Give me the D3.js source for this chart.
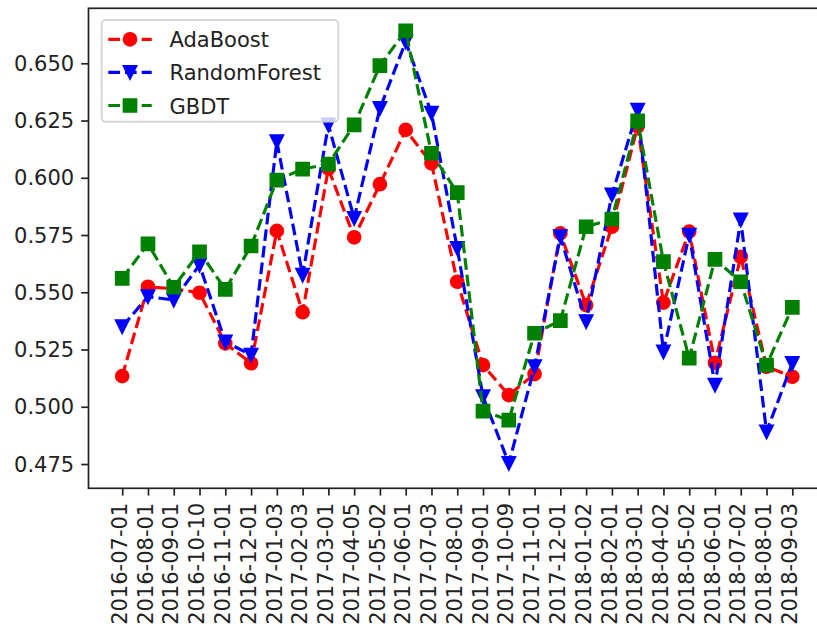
<!DOCTYPE html>
<html>
<head>
<meta charset="utf-8">
<script src="https://cdn.jsdelivr.net/npm/d3@7"></script>
<style>
  html, body { margin: 0; padding: 0; background: #fff; }
  svg { display: block; }
  text { font-family: "DejaVu Sans", sans-serif; }
</style>
</head>
<body>
<div id="chart"></div>
<script>
const dates = ["2016-07-01","2016-08-01","2016-09-01","2016-10-10","2016-11-01","2016-12-01",
  "2017-01-03","2017-02-03","2017-03-01","2017-04-05","2017-05-02","2017-06-01","2017-07-03",
  "2017-08-01","2017-09-01","2017-10-09","2017-11-01","2017-12-01","2018-01-02","2018-02-01",
  "2018-03-01","2018-04-02","2018-05-02","2018-06-01","2018-07-02","2018-08-01","2018-09-03"];

const adaBoost = [0.5134,0.5524,0.5515,0.5498,0.5277,0.5190,0.5768,0.5413,0.6040,0.5740,0.5972,0.6209,0.6063,
  0.5546,0.5182,0.5051,0.5143,0.5757,0.5444,0.5786,0.6225,0.5455,0.5765,0.5192,0.5655,0.5175,0.5131];
const randomForest = [0.5350,0.5481,0.5466,0.5619,0.5284,0.5226,0.6158,0.5575,0.6231,0.5823,0.6303,0.6594,0.6282,
  0.5692,0.5044,0.4753,0.5175,0.5743,0.5372,0.5925,0.6296,0.5240,0.5750,0.5095,0.5816,0.4891,0.5190];
const gbdt = [0.5561,0.5711,0.5522,0.5677,0.5513,0.5702,0.5990,0.6038,0.6060,0.6231,0.6490,0.6642,0.6107,
  0.5935,0.4981,0.4942,0.5321,0.5376,0.5786,0.5819,0.6249,0.5634,0.5212,0.5644,0.5546,0.5182,0.5434];

const yTicks = [0.475,0.500,0.525,0.550,0.575,0.600,0.625,0.650];
const seriesNames = ["AdaBoost","RandomForest","GBDT"];
const seriesColors = ["#ff0000","#0000ff","#008000"];
const seriesMarkers = ["circle","triangleDown","square"];

const W = 817, H = 634;
const plot = {left: 88.5, right: 825.5, top: 8.3, bottom: 488.3};

const svg = d3.select("#chart").append("svg").attr("width", W).attr("height", H);
svg.append("rect").attr("width", W).attr("height", H).attr("fill", "#fff");

const x = d3.scalePoint().domain(dates).range([122.2, 792.3]);
const y = d3.scaleLinear().domain([0.4644, 0.6740]).range([plot.bottom, plot.top]);

const FS = 21;
const s = 2.1; // px per pt

// axes
const yAxis = d3.axisLeft(y).tickValues(yTicks).tickFormat(d3.format(".3f")).tickSize(7.3).tickPadding(7);
const gy = svg.append("g").attr("transform", `translate(${plot.left},0)`).call(yAxis);
gy.select(".domain").remove();
gy.selectAll(".tick line").attr("stroke", "#222").attr("stroke-width", 1.7);
gy.selectAll(".tick text").attr("font-size", FS).attr("fill", "#222").attr("dy", "0.34em");

const xAxis = d3.axisBottom(x).tickSize(7.3).tickPadding(7);
const gx = svg.append("g").attr("transform", `translate(0,${plot.bottom})`).call(xAxis);
gx.select(".domain").remove();
gx.selectAll(".tick line").attr("stroke", "#222").attr("stroke-width", 1.7);
gx.selectAll(".tick text")
  .attr("font-size", FS).attr("fill", "#222")
  .attr("text-anchor", "end")
  .attr("transform", "translate(0,14.5) rotate(-90)")
  .attr("x", 0).attr("y", 0).attr("dy", "0.2em");

// series
const seriesData = [adaBoost, randomForest, gbdt];
const lw = 1.5 * s;
const dash = `${3.7 * lw},${1.6 * lw}`;
const ms = 6 * s;

function markerPath(type, size) {
  const h = size / 2;
  if (type === "circle") {
    return `M${h},0A${h},${h} 0 1,1 ${-h},0A${h},${h} 0 1,1 ${h},0Z`;
  } else if (type === "square") {
    return `M${-h},${-h}L${h},${-h}L${h},${h}L${-h},${h}Z`;
  } else {
    return `M0,${h}L${-h},${-h}L${h},${-h}Z`;
  }
}

const line = d3.line().x((d, i) => x(dates[i])).y(d => y(d));

const plotG = svg.append("g");
seriesData.forEach((vals, k) => {
  const g = plotG.append("g");
  g.append("path").datum(vals).attr("d", line)
    .attr("fill", "none").attr("stroke", seriesColors[k])
    .attr("stroke-width", lw).attr("stroke-dasharray", dash);
  g.selectAll("path.m").data(vals).enter().append("path").attr("class", "m")
    .attr("d", markerPath(seriesMarkers[k], ms))
    .attr("transform", (d, i) => `translate(${x(dates[i])},${y(d)})`)
    .attr("fill", seriesColors[k]).attr("stroke", seriesColors[k]).attr("stroke-width", 1 * s);
});

// spines
svg.append("rect")
  .attr("x", plot.left).attr("y", plot.top)
  .attr("width", plot.right - plot.left).attr("height", plot.bottom - plot.top)
  .attr("fill", "none").attr("stroke", "#222").attr("stroke-width", 1.7);

// legend
const lg = svg.append("g");
lg.append("rect").attr("x", 101.7).attr("y", 20).attr("width", 236.6).attr("height", 101.7)
  .attr("rx", 4.2).attr("ry", 4.2)
  .attr("fill", "rgba(255,255,255,0.8)").attr("stroke", "rgba(204,204,204,0.8)").attr("stroke-width", 2);
const rowY = [39.3, 72.3, 105.5];
seriesNames.forEach((name, k) => {
  const cy = rowY[k];
  lg.append("line").attr("x1", 108.3).attr("x2", 151.7).attr("y1", cy).attr("y2", cy)
    .attr("stroke", seriesColors[k]).attr("stroke-width", lw).attr("stroke-dasharray", dash);
  lg.append("path").attr("d", markerPath(seriesMarkers[k], ms))
    .attr("transform", `translate(130,${cy})`)
    .attr("fill", seriesColors[k]).attr("stroke", seriesColors[k]).attr("stroke-width", 1 * s);
  lg.append("text").attr("x", 169.5).attr("y", cy + 8).attr("font-size", FS).attr("fill", "#222").text(name);
});
</script>
</body>
</html>
